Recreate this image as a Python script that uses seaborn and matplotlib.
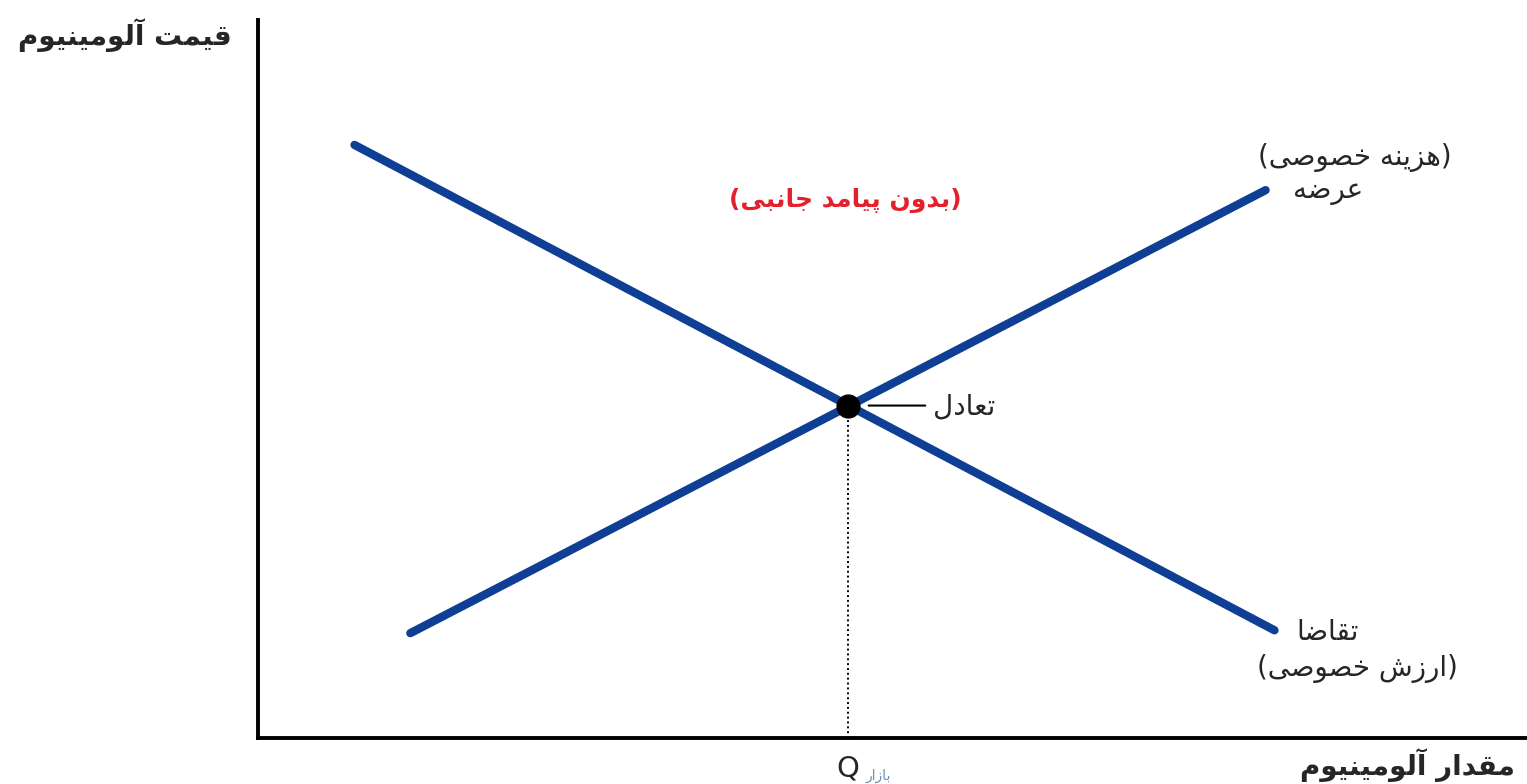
import numpy as np
import pandas as pd
import matplotlib
matplotlib.use("Agg")
import matplotlib.pyplot as plt
import seaborn as sns

# Chart data (axes run 0..100)
demand_q = [7.6, 80.1]
demand_p = [82.6, 15.0]
supply_q = [12.0, 79.4]
supply_p = [14.6, 76.3]
equilibrium_q = [46.5]
equilibrium_p = [46.3]

y_label = "قیمت آلومینیوم"
x_label = "مقدار آلومینیوم"
title_text = "(بدون پیامد جانبی)"
supply_label = ["(هزینه خصوصی)", "عرضه"]
demand_label = ["تقاضا", "(ارزش خصوصی)"]
eq_label = "تعادل"
q_label = "Q"
q_sub = "بازار"

# Arabic presentation forms: isolated, final, initial, medial
FORMS = {
    "ا": ("\uFE8D", "\uFE8E", None, None),
    "آ": ("\uFE81", "\uFE82", None, None),
    "ب": ("\uFE8F", "\uFE90", "\uFE91", "\uFE92"),
    "پ": ("\uFB56", "\uFB57", "\uFB58", "\uFB59"),
    "ت": ("\uFE95", "\uFE96", "\uFE97", "\uFE98"),
    "ج": ("\uFE9D", "\uFE9E", "\uFE9F", "\uFEA0"),
    "خ": ("\uFEA5", "\uFEA6", "\uFEA7", "\uFEA8"),
    "د": ("\uFEA9", "\uFEAA", None, None),
    "ر": ("\uFEAD", "\uFEAE", None, None),
    "ز": ("\uFEAF", "\uFEB0", None, None),
    "ش": ("\uFEB5", "\uFEB6", "\uFEB7", "\uFEB8"),
    "ص": ("\uFEB9", "\uFEBA", "\uFEBB", "\uFEBC"),
    "ض": ("\uFEBD", "\uFEBE", "\uFEBF", "\uFEC0"),
    "ع": ("\uFEC9", "\uFECA", "\uFECB", "\uFECC"),
    "ق": ("\uFED5", "\uFED6", "\uFED7", "\uFED8"),
    "ل": ("\uFEDD", "\uFEDE", "\uFEDF", "\uFEE0"),
    "م": ("\uFEE1", "\uFEE2", "\uFEE3", "\uFEE4"),
    "ن": ("\uFEE5", "\uFEE6", "\uFEE7", "\uFEE8"),
    "ه": ("\uFEE9", "\uFEEA", "\uFEEB", "\uFEEC"),
    "و": ("\uFEED", "\uFEEE", None, None),
    "ی": ("\uFBFC", "\uFBFD", "\uFBFE", "\uFBFF"),
}
MIRROR = {"(": ")", ")": "("}


def fa(text):
    """Shape Persian text and put it in visual (left to right) order."""
    out = []
    for i, ch in enumerate(text):
        if ch not in FORMS:
            out.append(ch)
            continue
        prev = text[i - 1] if i > 0 else ""
        nxt = text[i + 1] if i + 1 < len(text) else ""
        joins_prev = prev in FORMS and FORMS[prev][2] is not None
        joins_next = FORMS[ch][2] is not None and nxt in FORMS
        iso, fin, ini, med = FORMS[ch]
        if joins_prev and joins_next:
            out.append(med)
        elif joins_prev:
            out.append(fin)
        elif joins_next:
            out.append(ini)
        else:
            out.append(iso)
    return "".join(MIRROR.get(c, c) for c in reversed(out))


sns.set_theme(style="white")
plt.rcParams["font.family"] = ["DejaVu Sans"]

fig = plt.figure(figsize=(15.27, 7.84), dpi=100)
ax = fig.add_axes([0.169, 0.0587, 0.831, 0.9158])

line_color = "#0f3f95"
demand = pd.DataFrame({"q": demand_q, "p": demand_p})
supply = pd.DataFrame({"q": supply_q, "p": supply_p})
sns.lineplot(data=demand, x="q", y="p", color=line_color, linewidth=6, ax=ax)
sns.lineplot(data=supply, x="q", y="p", color=line_color, linewidth=6, ax=ax)

# dotted drop line from the equilibrium to the quantity axis
ax.plot([equilibrium_q[0], equilibrium_q[0]], [0, equilibrium_p[0]],
        color="black", linestyle=(0, (1, 1.5)), linewidth=1.4, zorder=1)
sns.scatterplot(x=equilibrium_q, y=equilibrium_p, color="black", s=260,
                edgecolor="black", zorder=5, ax=ax)

ax.set_xlim(0, 100)
ax.set_ylim(0, 100)
ax.set_xticks([])
ax.set_yticks([])
ax.set_xlabel("")
ax.set_ylabel("")
for side in ["top", "right"]:
    ax.spines[side].set_visible(False)
for side in ["left", "bottom"]:
    ax.spines[side].set_color("black")
    ax.spines[side].set_linewidth(2.8)

# labels
ax.text(-10.5, 97.9, fa(y_label), fontsize=20, fontweight="bold",
        ha="center", va="center", clip_on=False)
ax.text(90.6, -3.8, fa(x_label), fontsize=20, fontweight="bold",
        ha="center", va="center", clip_on=False)
ax.text(46.3, 74.9, fa(title_text), fontsize=18, fontweight="bold",
        color="#e3202b", ha="center", va="center")

ax.text(86.4, 80.8, fa(supply_label[0]), fontsize=20, ha="center", va="center")
ax.text(84.3, 76.2, fa(supply_label[1]), fontsize=20, ha="center", va="center")
ax.text(84.3, 14.8, fa(demand_label[0]), fontsize=20, ha="center", va="center")
ax.text(86.6, 9.7, fa(demand_label[1]), fontsize=20, ha="center", va="center")

ax.annotate("", xy=(equilibrium_q[0] + 1.4, equilibrium_p[0]),
            xytext=(52.8, equilibrium_p[0]),
            arrowprops=dict(arrowstyle="-", color="black", linewidth=1.5))
ax.text(53.2, 46.1, fa(eq_label), fontsize=20, ha="left", va="center")

ax.text(equilibrium_q[0], -4.3, q_label, fontsize=21, ha="center",
        va="center", clip_on=False)
ax.text(equilibrium_q[0] + 1.4, -5.3, fa(q_sub), fontsize=10, color="#6d8fb5",
        ha="left", va="center", clip_on=False)

fig.savefig("out.png", dpi=100)
